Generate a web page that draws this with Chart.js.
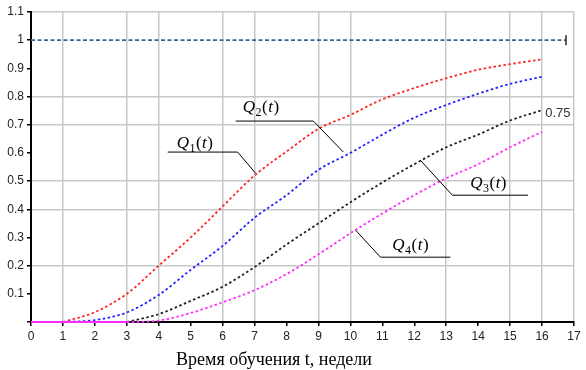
<!DOCTYPE html>
<html>
<head>
<meta charset="utf-8">
<script src="https://cdn.jsdelivr.net/npm/chart.js@4.4.0/dist/chart.umd.min.js"></script>
<style>
  html, body { margin: 0; padding: 0; background: #fff; }
  #wrap { width: 586px; height: 370px; position: relative; }
</style>
</head>
<body>
<div id="wrap"><canvas id="qChart"></canvas></div>
<script>
// weeks of training and the four curves
const weeks = [0, 1, 2, 3, 4, 5, 6, 7, 8, 9, 10, 11, 12, 13, 14, 15, 16];
const q1 = [null, 0, 0.035, 0.10, 0.20, 0.30, 0.41, 0.52, 0.605, 0.685, 0.735, 0.79, 0.83, 0.865, 0.895, 0.915, 0.932];
const q2 = [null, 0, 0.007, 0.034, 0.096, 0.185, 0.27, 0.37, 0.45, 0.54, 0.60, 0.665, 0.725, 0.77, 0.81, 0.845, 0.87];
const q3 = [null, null, null, 0, 0.028, 0.075, 0.125, 0.195, 0.275, 0.35, 0.425, 0.495, 0.56, 0.62, 0.665, 0.715, 0.752];
const q4 = [0, 0, 0, 0, 0.005, 0.032, 0.07, 0.113, 0.17, 0.24, 0.315, 0.385, 0.45, 0.51, 0.56, 0.62, 0.675];
const targetLevel = 1;
const targetEnd = 16.75;
const q3EndLabel = '0.75';

// grid lines that are visible in the picture
const xGridShown = [1, 3, 4, 6, 7, 9, 10, 13, 15, 16, 17];
const yGridShown = [0.2, 0.4, 0.5, 0.7, 0.8, 1.1];

function pts(arr) {
  return weeks.map((w, i) => ({ x: w, y: arr[i] }));
}

function curve(label, arr, color) {
  return {
    label: label,
    data: pts(arr),
    borderColor: color,
    borderWidth: 1.8,
    borderDash: [2.5, 2.5],
    pointRadius: 0,
    clip: 4,
    cubicInterpolationMode: 'monotone',
    segment: {
      borderDash: c => (c.p0.parsed.y === 0 && c.p1.parsed.y === 0) ? [] : [2.5, 2.5]
    }
  };
}

// labels with leader lines, in data coordinates
const curveNotes = [
  { sub: '1', text: [4.56, 0.617], line: [[4.28, 0.603], [6.47, 0.603], [7.03, 0.528]] },
  { sub: '2', text: [6.63, 0.745], line: [[6.41, 0.713], [8.84, 0.713], [9.78, 0.603]] },
  { sub: '3', text: [13.75, 0.475], line: [[15.56, 0.45], [13.19, 0.45], [12.19, 0.574]] },
  { sub: '4', text: [11.31, 0.255], line: [[13.13, 0.23], [10.94, 0.23], [10.16, 0.326]] }
];

const notesPlugin = {
  id: 'notes',
  afterDatasetsDraw(chart) {
    const ctx = chart.ctx;
    const xs = chart.scales.x, ys = chart.scales.y;
    ctx.save();
    curveNotes.forEach(n => {
      ctx.strokeStyle = '#000';
      ctx.lineWidth = 1;
      ctx.beginPath();
      n.line.forEach((p, i) => {
        const px = xs.getPixelForValue(p[0]), py = ys.getPixelForValue(p[1]);
        if (i === 0) ctx.moveTo(px, py); else ctx.lineTo(px, py);
      });
      ctx.stroke();

      let x = xs.getPixelForValue(n.text[0]);
      const y = ys.getPixelForValue(n.text[1]);
      ctx.fillStyle = '#000';
      ctx.textBaseline = 'alphabetic';
      ctx.textAlign = 'left';
      const parts = [
        ['italic 17px "Liberation Serif"', 'Q', 0],
        ['12px "Liberation Serif"', n.sub, 4],
        ['17px "Liberation Serif"', '(', 0],
        ['italic 17px "Liberation Serif"', 't', 0],
        ['17px "Liberation Serif"', ')', 0]
      ];
      parts.forEach(p => {
        ctx.font = p[0];
        ctx.fillText(p[1], x, y + p[2]);
        x += ctx.measureText(p[1]).width + 0.5;
      });
    });

    // value at the end of Q3
    ctx.font = '13px "Liberation Sans"';
    ctx.fillStyle = '#333';
    ctx.fillText(q3EndLabel, xs.getPixelForValue(16.1), ys.getPixelForValue(0.727));

    // axis title
    ctx.font = '18px "Liberation Serif"';
    ctx.fillStyle = '#000';
    ctx.textAlign = 'center';
    ctx.fillText('Время обучения t, недели', 274, 365);
    ctx.restore();
  }
};

const near = (v, list) => list.some(g => Math.abs(g - v) < 1e-6);

new Chart(document.getElementById('qChart'), {
  type: 'line',
  data: {
    datasets: [
      {
        label: 'level',
        data: [{ x: 0, y: targetLevel }, { x: targetEnd, y: targetLevel }],
        borderColor: '#3a6796',
        borderWidth: 1.8,
        borderDash: [4, 2.5],
        pointStyle: 'line',
        pointRotation: 90,
        pointRadius: [0, 5],
        pointBorderColor: '#222',
        pointBorderWidth: 1.5
      },
      curve('Q4', q4, '#ff2cff'),
      curve('Q3', q3, '#222222'),
      curve('Q2', q2, '#2424ff'),
      curve('Q1', q1, '#ff2424')
    ]
  },
  options: {
    responsive: true,
    maintainAspectRatio: false,
    animation: false,
    layout: { padding: { top: 12, right: 12, left: 0, bottom: 0 } },
    plugins: { legend: { display: false }, tooltip: { enabled: false } },
    scales: {
      x: {
        type: 'linear',
        min: 0,
        max: 17,
        ticks: { stepSize: 1, color: '#222', font: { family: 'Liberation Sans', size: 12 }, padding: 3,
          maxRotation: 0, autoSkip: false },
        grid: {
          color: c => near(c.tick.value, xGridShown) ? '#c8c8c8' : 'rgba(0,0,0,0)',
          lineWidth: 1.5,
          tickLength: 4,
          tickColor: '#000'
        },
        border: { color: '#000', width: 2 },
        afterFit: s => { s.height = 48; }
      },
      y: {
        min: 0,
        max: 1.1,
        ticks: {
          stepSize: 0.1, color: '#222', font: { family: 'Liberation Sans', size: 12 }, padding: 3,
          callback: v => {
            const r = Math.round(v * 10) / 10;
            if (r === 0) return '';
            if (r === 1) return '1';
            return r.toFixed(1);
          }
        },
        grid: {
          color: c => near(Math.round(c.tick.value * 10) / 10, yGridShown) ? '#c8c8c8' : 'rgba(0,0,0,0)',
          lineWidth: 1.5,
          tickLength: 4,
          tickColor: '#000'
        },
        border: { color: '#000', width: 2 },
        afterFit: s => { s.width = 31; }
      }
    }
  },
  plugins: [notesPlugin]
});
</script>
</body>
</html>
